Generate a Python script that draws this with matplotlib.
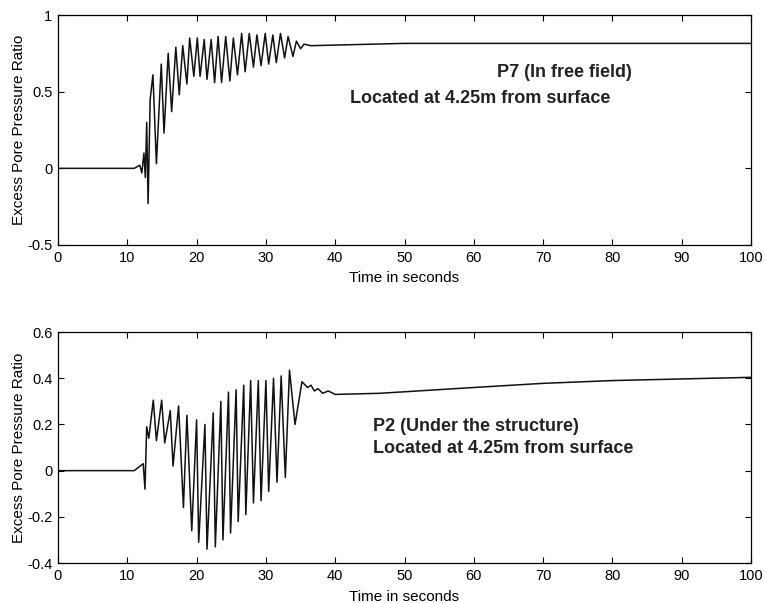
import matplotlib

matplotlib.use("Agg")
import matplotlib.pyplot as plt

plt.rcParams["font.family"] = ["Liberation Sans", "DejaVu Sans"]

# P7, free field: turning points of the recorded ratio (time s, ratio)
p7_t = [0.0, 11.0, 11.8, 12.1, 12.4, 12.6, 12.8, 13.0, 13.3, 13.7, 14.2, 14.9,
        15.3, 15.9, 16.4, 17.0, 17.5, 18.0, 18.6, 19.0, 19.6, 20.1, 20.5, 21.1,
        21.5, 22.1, 22.6, 23.1, 23.6, 24.2, 24.8, 25.3, 25.9, 26.5, 27.0, 27.6,
        28.2, 28.7, 29.3, 29.9, 30.4, 31.0, 31.5, 32.1, 32.7, 33.2, 33.9, 34.4,
        35.0, 35.5, 36.5, 50.0, 70.0, 100.0]
p7_r = [0.0, 0.0, 0.02, -0.03, 0.10, -0.06, 0.30, -0.23, 0.45, 0.61, 0.03, 0.68,
        0.23, 0.75, 0.37, 0.79, 0.48, 0.80, 0.55, 0.85, 0.60, 0.85, 0.60, 0.84,
        0.58, 0.84, 0.56, 0.86, 0.56, 0.86, 0.57, 0.85, 0.61, 0.88, 0.63, 0.88,
        0.66, 0.87, 0.67, 0.88, 0.68, 0.87, 0.69, 0.88, 0.72, 0.86, 0.73, 0.83,
        0.78, 0.81, 0.80, 0.815, 0.815, 0.815]

# P2, under the structure
p2_t = [0.0, 11.0, 12.3, 12.55, 12.8, 13.1, 13.75, 14.2, 14.96, 15.4, 16.2,
        16.6, 17.4, 18.1, 18.6, 19.3, 20.0, 20.3, 21.2, 21.5, 22.4, 22.7, 23.5,
        23.8, 24.6, 24.9, 25.7, 26.0, 26.8, 27.1, 27.8, 28.2, 28.9, 29.3, 30.0,
        30.4, 31.1, 31.6, 32.2, 32.8, 33.4, 34.2, 35.2, 36.0, 36.5, 37.0, 37.5,
        38.2, 39.0, 40.0, 46.5, 60.0, 70.0, 80.0, 90.0, 100.0]
p2_r = [0.0, 0.0, 0.03, -0.08, 0.19, 0.14, 0.305, 0.13, 0.305, 0.12, 0.26,
        0.02, 0.28, -0.16, 0.24, -0.26, 0.22, -0.31, 0.20, -0.34, 0.25, -0.33,
        0.30, -0.30, 0.34, -0.27, 0.35, -0.22, 0.37, -0.19, 0.39, -0.14, 0.39,
        -0.13, 0.39, -0.09, 0.40, -0.05, 0.41, -0.03, 0.435, 0.20, 0.385, 0.36,
        0.37, 0.345, 0.355, 0.335, 0.345, 0.33, 0.335, 0.36, 0.378, 0.39,
        0.397, 0.404]

x_ticks = [0, 10, 20, 30, 40, 50, 60, 70, 80, 90, 100]
top_yticks = [-0.5, 0, 0.5, 1]
top_ylabels = ["-0.5", "0", "0.5", "1"]
bot_yticks = [-0.4, -0.2, 0, 0.2, 0.4, 0.6]
bot_ylabels = ["-0.4", "-0.2", "0", "0.2", "0.4", "0.6"]

fig = plt.figure(figsize=(7.65, 6.03), dpi=100)
ax1 = fig.add_axes([0.0758, 0.5937, 0.906, 0.3814])
ax2 = fig.add_axes([0.0758, 0.0663, 0.906, 0.383])

panels = [
    (ax1, p7_t, p7_r, (-0.5, 1), top_yticks, top_ylabels,
     "P7 (In free field)", 0.633, 0.748, 0.421, 0.639),
    (ax2, p2_t, p2_r, (-0.4, 0.6), bot_yticks, bot_ylabels,
     "P2 (Under the structure)", 0.4545, 0.589, 0.4545, 0.498),
]
for ax, t, r, ylim, yt, yl, name, nx, ny, lx, ly in panels:
    ax.plot(t, r, color="#111111", lw=1.1)
    ax.set_xlim(0, 100)
    ax.set_ylim(*ylim)
    ax.set_xticks(x_ticks)
    ax.set_xticklabels([str(v) for v in x_ticks])
    ax.set_yticks(yt)
    ax.set_yticklabels(yl)
    ax.tick_params(direction="in", top=True, right=True, length=4,
                   width=0.8, labelsize=10.5, pad=4)
    for s in ax.spines.values():
        s.set_linewidth(0.9)
    ax.set_xlabel("Time in seconds", fontsize=11, labelpad=5)
    ax.set_ylabel("Excess Pore Pressure Ratio", fontsize=11, labelpad=1)
    ax.text(nx, ny, name, transform=ax.transAxes, fontsize=13,
            fontweight="bold", va="center", ha="left", color="#222222")
    ax.text(lx, ly, "Located at 4.25m from surface", transform=ax.transAxes,
            fontsize=13, fontweight="bold", va="center", ha="left",
            color="#222222")

fig.savefig("out.png", dpi=100)
